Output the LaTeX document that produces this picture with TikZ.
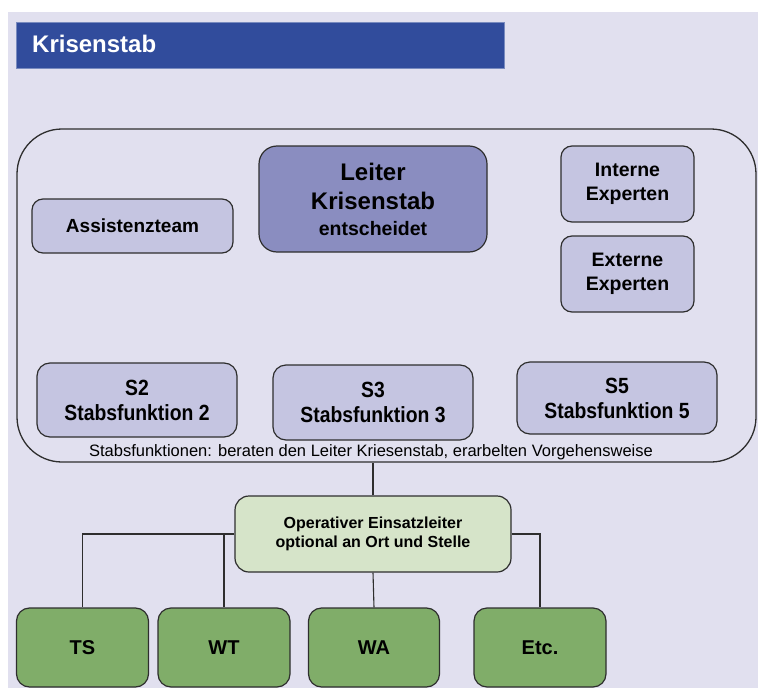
\documentclass[tikz,border=0pt]{standalone}
\usepackage{fontspec}
\setmainfont{Liberation Sans}
\newfontfamily\narrowfont[FakeStretch=0.88]{Liberation Sans}
\definecolor{bglav}{HTML}{E1E0EF}
\definecolor{titleblue}{HTML}{314C9C}
\definecolor{leiterfill}{HTML}{8A8DC0}
\definecolor{lightbox}{HTML}{C5C5E1}
\definecolor{opfill}{HTML}{D6E4C9}
\definecolor{greenbox}{HTML}{80AD69}
\definecolor{edgecol}{HTML}{2E2E2E}
\begin{document}
\begin{tikzpicture}[x=1pt,y=-1pt,
  box/.style={draw=edgecol, line width=1.2pt, inner sep=0pt, align=center, text=black},
  lightb/.style={box, fill=lightbox, rounded corners=11pt},
  greenb/.style={box, fill=greenbox, rounded corners=13pt, minimum width=132pt, minimum height=79pt,
     font=\bfseries\fontsize{20}{24}\selectfont},
  sbox/.style={lightb, rounded corners=13pt, minimum width=200pt,
     font=\narrowfont\bfseries\fontsize{22}{25}\selectfont},
  conn/.style={draw=edgecol, line width=1.1pt}]
\useasboundingbox (0,0) rectangle (758,688);
\fill[white] (0,0) rectangle (758,688);
\fill[bglav] (8,12) rectangle (758,688);

% title bar
\node[fill=titleblue, draw=titleblue!65!white, line width=0.8pt, minimum width=488pt, minimum height=46pt,
      inner sep=0pt] (titlebar) at (260,45) {};
\node[anchor=base west, text=white, font=\bfseries\fontsize{24}{28}\selectfont, inner sep=0pt]
      (title) at (32,52) {Krisenstab};

% big frame
\node[draw=edgecol, line width=1.3pt, rounded corners=45pt, minimum width=739pt, minimum height=333pt,
      inner sep=0pt] (stab) at (386.5,295.5) {};

% leader
\node[box, fill=leiterfill, rounded corners=18pt, minimum width=228pt, minimum height=106pt,
      font=\bfseries\fontsize{24}{29}\selectfont] (leiter) at (373,199)
      {Leiter\\Krisenstab\\[-3pt]{\fontsize{19.5}{22}\selectfont entscheidet}};

\node[lightb, minimum width=201pt, minimum height=54pt, font=\bfseries\fontsize{19}{23}\selectfont]
      (assist) at (132.5,226) {Assistenzteam};

\node[lightb, minimum width=133pt, minimum height=76pt, font=\bfseries\fontsize{19.5}{24}\selectfont]
      (intern) at (627.5,184) {Interne\\Experten};
\node[lightb, minimum width=133pt, minimum height=76pt, font=\bfseries\fontsize{19.5}{24}\selectfont]
      (extern) at (627.5,274) {Externe\\Experten};

\node[sbox, minimum height=74pt] (s2) at (137,400) {S2\\Stabsfunktion 2};
\node[sbox, minimum height=75pt] (s3) at (373,402.5) {S3\\Stabsfunktion 3};
\node[sbox, minimum height=72pt] (s5) at (617,398) {S5\\Stabsfunktion 5};

\node[anchor=base, inner sep=0pt, font=\fontsize{16.5}{20}\selectfont] (cap) at (371,456)
      {Stabsfunktionen: beraten den Leiter Kriesenstab, erarbelten Vorgehensweise};

% operative
\node[box, fill=opfill, rounded corners=14pt, minimum width=276pt, minimum height=76pt,
      font=\bfseries\fontsize{16}{19}\selectfont] (op) at (373,534)
      {Operativer Einsatzleiter\\optional an Ort und Stelle};

\node[greenb, minimum width=132pt] (ts) at (82.5,647.5) {TS};
\node[greenb, minimum width=132pt] (wt) at (224,647.5) {WT};
\node[greenb, minimum width=131pt] (wa) at (374,647.5) {WA};
\node[greenb, minimum width=132pt] (etc) at (540,647.5) {Etc.};

% connectors
\draw[conn] (op.north) -- (op.north |- stab.south);
\draw[conn] (op.west) -| (ts.north);
\draw[conn] (wt.north) -- (wt.north |- op.west);
\draw[conn] (op.east) -| (etc.north);
\draw[conn] (op.south) -- (wa.north);
\end{tikzpicture}
\end{document}
